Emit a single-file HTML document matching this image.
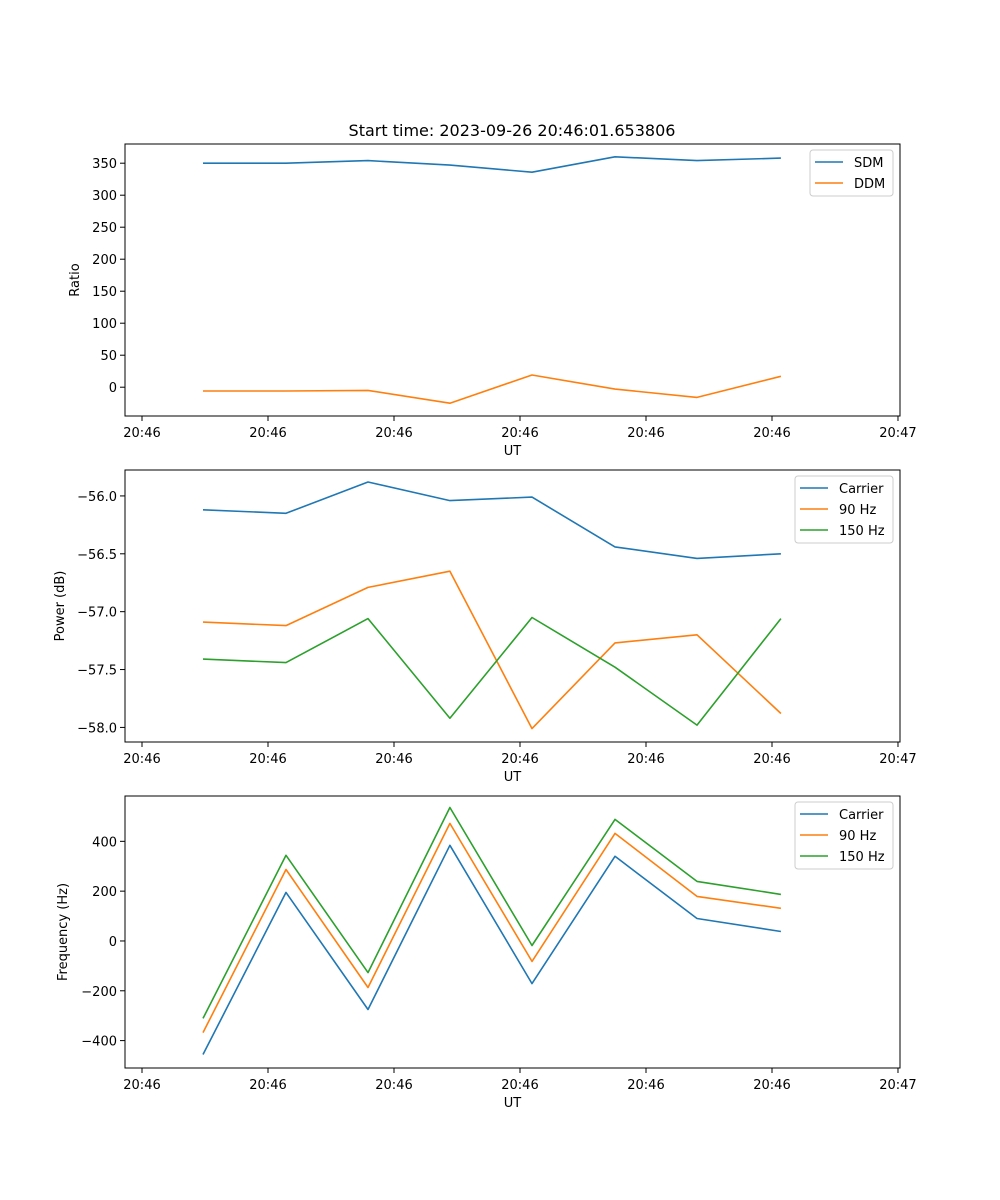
<!DOCTYPE html>
<html><head><meta charset="utf-8">
<style>
html,body{margin:0;padding:0;background:#fff;}
svg{display:block;font-family:"DejaVu Sans","Liberation Sans",sans-serif;}
</style></head>
<body>
<svg id="fig" width="1000" height="1200" viewBox="0 0 1000 1200">
<text x="512" y="136" font-size="16" text-anchor="middle">Start time: 2023-09-26 20:46:01.653806</text>
</svg>
<script>
const times = [4.84, 11.43, 17.94, 24.44, 30.95, 37.54, 44.05, 50.71];
const xTickVals = [0, 10, 20, 30, 40, 50, 60];
const xTickLabels = ["20:46","20:46","20:46","20:46","20:46","20:46","20:47"];
const sdm = [350, 350, 354, 347, 336, 360, 354, 358];
const ddm = [-6, -6, -5, -25, 19, -3, -16, 17];
const powCarrier = [-56.12, -56.15, -55.88, -56.04, -56.01, -56.44, -56.54, -56.50];
const pow90 = [-57.09, -57.12, -56.79, -56.65, -58.01, -57.27, -57.20, -57.88];
const pow150 = [-57.41, -57.44, -57.06, -57.92, -57.05, -57.48, -57.98, -57.06];
const freqCarrier = [-456, 195, -275, 384, -171, 340, 90, 38];
const freq90 = [-368, 287, -187, 472, -82, 432, 179, 131];
const freq150 = [-311, 344, -127, 536, -18, 488, 239, 187];
const ratioTicks = [0, 50, 100, 150, 200, 250, 300, 350];
const powTicks = [-58.0, -57.5, -57.0, -56.5, -56.0];
const freqTicks = [-400, -200, 0, 200, 400];

const NS = "http://www.w3.org/2000/svg";
const svg = document.getElementById('fig');
const C = {blue:'#1f77b4', orange:'#ff7f0e', green:'#2ca02c'};
const L = 125, R = 900;
const xMin = -1.35, xMax = 60.16;
function xs(t){ return L + (t - xMin) / (xMax - xMin) * (R - L); }
function mk(tag, attrs, parent){ const e = document.createElementNS(NS, tag); for (const k in attrs) e.setAttribute(k, attrs[k]); (parent||svg).appendChild(e); return e; }

function panel(name, top, bottom, yMin, yMax, ticks, fmt, ylabel, series, legendX, legendW){
  const g = mk('g', {});
  
  
  const ys = v => bottom - (v - yMin) / (yMax - yMin) * (bottom - top);
  series.forEach(s => {
    const d = s.vals.map((v,i) => (i?'L':'M') + xs(times[i]).toFixed(1) + ',' + ys(v).toFixed(1)).join(' ');
    const p = mk('path', {d:d, fill:'none', stroke:s.color, 'stroke-width':1.6, 'stroke-linejoin':'round'}, g);
    
    
  });
  const fr = mk('rect', {x:L, y:top, width:R-L, height:bottom-top, fill:'none', stroke:'#000', 'stroke-width':1}, g);
  
  
  xTickVals.forEach((t,i) => {
    const x = xs(t);
    mk('line', {x1:x, x2:x, y1:bottom, y2:bottom+5, stroke:'#000'}, g);
    const tx = mk('text', {x:x, y:bottom+21, 'font-size':13, 'text-anchor':'middle'}, g);
    tx.textContent = xTickLabels[i];
    
    
  });
  const xl = mk('text', {x:(L+R)/2, y:bottom+39, 'font-size':13, 'text-anchor':'middle'}, g);
  xl.textContent = 'UT';
  
  
  ticks.forEach(v => {
    const y = ys(v);
    mk('line', {x1:L-5, x2:L, y1:y, y2:y, stroke:'#000'}, g);
    const tx = mk('text', {x:L-8, y:y+5, 'font-size':13, 'text-anchor':'end'}, g);
    tx.textContent = fmt(v);
    
    
  });
  const yl = mk('text', {x:0, y:0, 'font-size':13, 'text-anchor':'middle', transform:'translate(' + ylabel.x + ',' + (top+bottom)/2 + ') rotate(-90)'}, g);
  yl.textContent = ylabel.text;
  
  
  const lg = mk('g', {}, g);
  
  
  const lh = 4 + series.length * 21;
  mk('rect', {x:legendX, y:top+6, width:legendW, height:lh, rx:3, fill:'#fff', 'fill-opacity':0.8, stroke:'#ccc'}, lg);
  series.forEach((s,i) => {
    const y = top + 18 + i * 21;
    mk('line', {x1:legendX+5, x2:legendX+33, y1:y, y2:y, stroke:s.color, 'stroke-width':1.6}, lg);
    const tx = mk('text', {x:legendX+44, y:y+5, 'font-size':13}, lg);
    tx.textContent = s.label;
    
    
  });
}
const minus = s => s.replace('-', '\u2212');
panel('ratio', 144, 416, -45, 380, ratioTicks, v => minus(String(v)), {x:79, text:'Ratio'},
  [{key:'sdm', label:'SDM', vals:sdm, color:C.blue},{key:'ddm', label:'DDM', vals:ddm, color:C.orange}], 810, 83);
panel('power', 470, 742, -58.126, -55.776, powTicks, v => minus(v.toFixed(1)), {x:64, text:'Power (dB)'},
  [{key:'carrier', label:'Carrier', vals:powCarrier, color:C.blue},{key:'90hz', label:'90 Hz', vals:pow90, color:C.orange},{key:'150hz', label:'150 Hz', vals:pow150, color:C.green}], 795, 98);
panel('frequency', 796, 1068, -510, 582, freqTicks, v => minus(String(v)), {x:67, text:'Frequency (Hz)'},
  [{key:'carrier', label:'Carrier', vals:freqCarrier, color:C.blue},{key:'90hz', label:'90 Hz', vals:freq90, color:C.orange},{key:'150hz', label:'150 Hz', vals:freq150, color:C.green}], 795, 98);
</script>
</body></html>
